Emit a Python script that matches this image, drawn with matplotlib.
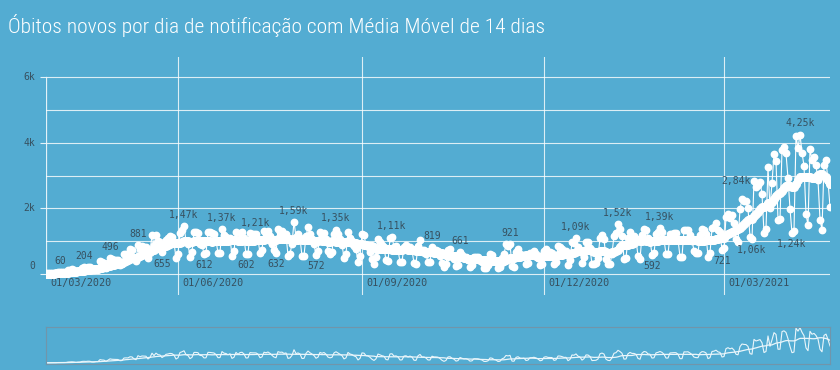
import matplotlib.pyplot as plt
from matplotlib import font_manager
import numpy as np
import pandas as pd

# daily deaths, one list per month (first list starts 17/03/2020)
mar20 = [1, 3, 2, 5, 7, 7, 9, 12, 11, 20, 15, 22, 22, 23, 42]
apr20 = [40, 58, 60, 73, 54, 67, 114, 133, 141, 115, 68, 99, 105, 190, 204,
         188, 217, 206, 115, 113, 166, 165, 407, 357, 346, 189, 338, 496, 449, 435]
may20 = [428, 421, 275, 296, 600, 615, 610, 751, 730, 496, 396, 881, 749, 844, 824, 816,
         485, 674, 1179, 888, 1188, 1001, 965, 655, 807, 1039, 1086, 1156, 1124, 956, 480]
jun20 = [623, 1262, 1349, 1473, 1005, 904, 525, 679, 1272, 1274, 1239, 909, 892, 612, 627,
         1282, 1269, 1238, 1206, 1022, 641, 654, 1374, 1185, 1141, 990, 1109, 552, 692, 1280]
jul20 = [1038, 1252, 1290, 1091, 602, 620, 1254, 1223, 1220, 1214, 1071, 631, 733, 1300, 1233,
         1322, 1163, 921, 716, 632, 1367, 1284, 1311, 1156, 1211, 555, 614, 921, 1595, 1129, 1212]
aug20 = [1088, 541, 561, 1154, 1437, 1226, 1079, 905, 572, 703, 1274, 1175, 1262, 1060, 709,
         620, 684, 1212, 1352, 1204, 1054, 892, 494, 620, 1271, 1085, 1012, 855, 758, 366, 553]
sep20 = [1215, 1184, 888, 855, 682, 447, 310, 504, 1075, 983, 874, 814, 415, 381, 1090,
         1113, 829, 858, 739, 363, 377, 836, 869, 729, 831, 717, 335, 317, 863, 1031]
oct20 = [729, 728, 599, 366, 363, 819, 734, 730, 703, 543, 323, 201, 309, 728, 754, 571,
         461, 230, 287, 661, 566, 497, 527, 432, 226, 263, 510, 513, 504, 423, 362]
nov20 = [190, 184, 262, 610, 580, 427, 363, 180, 208, 500, 600, 910, 850, 921, 230,
         216, 676, 754, 599, 564, 592, 302, 350, 630, 638, 691, 602, 498, 272, 317]
dec20 = [697, 755, 672, 664, 654, 313, 376, 842, 835, 770, 672, 686, 279, 433, 964, 936,
         1092, 823, 725, 345, 521, 968, 963, 784, 290, 314, 331, 480, 1111, 1194, 1074]
jan21 = [462, 314, 293, 620, 1171, 1242, 1524, 1379, 1171, 469, 484, 1110, 1274, 1151, 1151,
         1050, 551, 452, 1183, 1382, 1340, 1096, 1050, 592, 627, 1214, 1283, 1386, 1279, 1054, 595]
feb21 = [595, 1209, 1232, 1244, 1239, 1051, 520, 525, 1340, 1330, 1351, 1197, 1020, 713,
         647, 639, 1184, 1367, 1340, 1212, 527, 639, 1386, 1428, 1541, 1337, 1275, 721]
mar21 = [778, 1726, 1840, 1699, 1800, 1555, 1054, 987, 1972, 2286, 2233, 2216, 1997, 1127, 1057,
         2841, 2648, 2724, 2815, 2438, 1259, 1383, 3251, 2009, 2777, 3650, 3438, 1656, 1660, 3780, 3869]
apr21 = [3673, 2922, 1987, 1240, 1319, 4195, 3829, 4249, 3693, 3293, 1824, 1480, 3808, 3459,
         3560, 3305, 2865, 1657, 1347, 3321, 3472, 2820, 2050]

month_starts = ['2020-03-17', '2020-04-01', '2020-05-01', '2020-06-01', '2020-07-01',
                '2020-08-01', '2020-09-01', '2020-10-01', '2020-11-01', '2020-12-01',
                '2021-01-01', '2021-02-01', '2021-03-01', '2021-04-01']
blocks = [mar20, apr20, may20, jun20, jul20, aug20, sep20, oct20, nov20, dec20,
          jan21, feb21, mar21, apr21]

# points that carry a value label
label_dates = ['2020-04-03', '2020-04-15', '2020-04-28', '2020-05-12', '2020-05-24',
               '2020-06-04', '2020-06-14', '2020-06-23', '2020-07-05', '2020-07-10',
               '2020-07-20', '2020-07-29', '2020-08-09', '2020-08-19', '2020-09-16',
               '2020-10-06', '2020-10-20', '2020-11-14', '2020-12-17', '2021-01-07',
               '2021-01-24', '2021-01-28', '2021-02-28', '2021-03-15', '2021-03-16',
               '2021-04-04', '2021-04-08']

grid_dates = ['2020-06-01', '2020-09-01', '2020-12-01', '2021-03-01']
grid_labels = ['01/06/2020', '01/09/2020', '01/12/2020', '01/03/2021']
first_label = '01/03/2020'
y_ticks = [0, 2000, 4000, 6000]
y_tick_labels = ['0', '2k', '4k', '6k']

dates = pd.DatetimeIndex(np.concatenate(
    [pd.date_range(s, periods=len(b)).values for s, b in zip(month_starts, blocks)]))
deaths = pd.Series(np.concatenate(blocks), index=dates)
ma14 = deaths.rolling(14, min_periods=1).mean()

bg = '#53acd2'
txt = '#37505f'
x0 = pd.Timestamp('2020-03-27')
x1 = pd.Timestamp('2021-04-23')

fig = plt.figure(figsize=(8.4, 3.7), dpi=100, facecolor=bg)
W, H = 840, 370

# pick the narrowest sans family that is installed
installed = {f.name for f in font_manager.fontManager.ttflist}
title_family = next((n for n in ['Roboto Condensed', 'Liberation Sans Narrow',
                                 'Open Sans Condensed', 'Roboto', 'Lato']
                     if n in installed), 'DejaVu Sans')
title = fig.text(8 / W, 1 - 33 / H,
                 'Óbitos novos por dia de notificação com Média Móvel de 14 dias',
                 color='white', fontsize=16, va='baseline', ha='left',
                 family=[title_family, 'DejaVu Sans'], fontweight='light',
                 fontstretch='condensed')
rend = fig.canvas.get_renderer()
tw = title.get_window_extent(rend).width
title.set_fontsize(16 * 537 / tw)

ax = fig.add_axes([46 / W, (H - 295) / H, (830 - 46) / W, (295 - 57) / H])
ax.set_facecolor(bg)
ax.set_xlim(x0, x1)
ax.set_ylim(-640, 6610)
for s in ax.spines.values():
    s.set_visible(False)
ax.set_xticks([])
ax.set_yticks(y_ticks)
ax.set_yticklabels([])
ax.tick_params(axis='y', length=4.5, width=0.8, color='#e4f2f8')

for k in range(0, 7000, 1000):
    ax.axhline(k, color='white', lw=0.8, alpha=0.8, zorder=1)
for d in grid_dates:
    ax.axvline(pd.Timestamp(d), color='white', lw=0.8, alpha=0.8, zorder=1)
ax.plot([x0, x0], [0, 6000], color='white', lw=0.9, alpha=0.85, zorder=1)

for v, lab in zip(y_ticks, y_tick_labels):
    dy = 5.5 if v == 0 else 0
    ax.annotate(lab, xy=(0, v), xycoords=('axes fraction', 'data'), xytext=(-8, dy),
                textcoords='offset points', ha='right', va='center',
                color=txt, fontsize=7, family='DejaVu Sans Mono')

ax.annotate(first_label, xy=(x0, 0), xytext=(3.5, -6.5), textcoords='offset points',
            ha='left', va='center', color=txt, fontsize=7.3, family='DejaVu Sans Mono')
for d, lab in zip(grid_dates, grid_labels):
    ax.annotate(lab, xy=(pd.Timestamp(d), 0), xytext=(3.5, -6.5), textcoords='offset points',
                ha='left', va='center', color=txt, fontsize=7.3, family='DejaVu Sans Mono')

ax.plot(deaths.index, deaths.values, color='white', lw=0.8, marker='o', ms=4.6,
        mec='white', mfc='white', zorder=3)
ax.plot(ma14.index, ma14.values, color='white', lw=4.8, marker='o', ms=5.5,
        solid_capstyle='round', zorder=4)

for d in label_dates:
    t = pd.Timestamp(d)
    v = deaths[t]
    lab = f'{v / 1000:.2f}k'.replace('.', ',') if v >= 1000 else str(v)
    above = v > ma14[t]
    off = (0, 8) if above else (0, -8)
    if d == '2021-03-16':
        off = (-13, 0)
    ax.annotate(lab, xy=(t, v), xytext=off, textcoords='offset points',
                ha='center', va='center', color=txt, fontsize=7,
                family='DejaVu Sans Mono', zorder=5)

# navigator
nav = fig.add_axes([46 / W, (H - 364) / H, (830 - 46) / W, (364 - 327) / H])
nav.set_facecolor(bg)
nav.set_xlim(x0, x1)
nav.set_ylim(-120, 4330)
nav.set_xticks([])
nav.set_yticks([])
for s in nav.spines.values():
    s.set_color('#7195aa')
    s.set_linewidth(0.8)
nav.plot(deaths.index, deaths.values, color='#eaf6fb', lw=0.8)
nav.plot(ma14.index, ma14.values, color='#eaf6fb', lw=0.9)

fig.savefig('out.png', dpi=100, facecolor=bg)
